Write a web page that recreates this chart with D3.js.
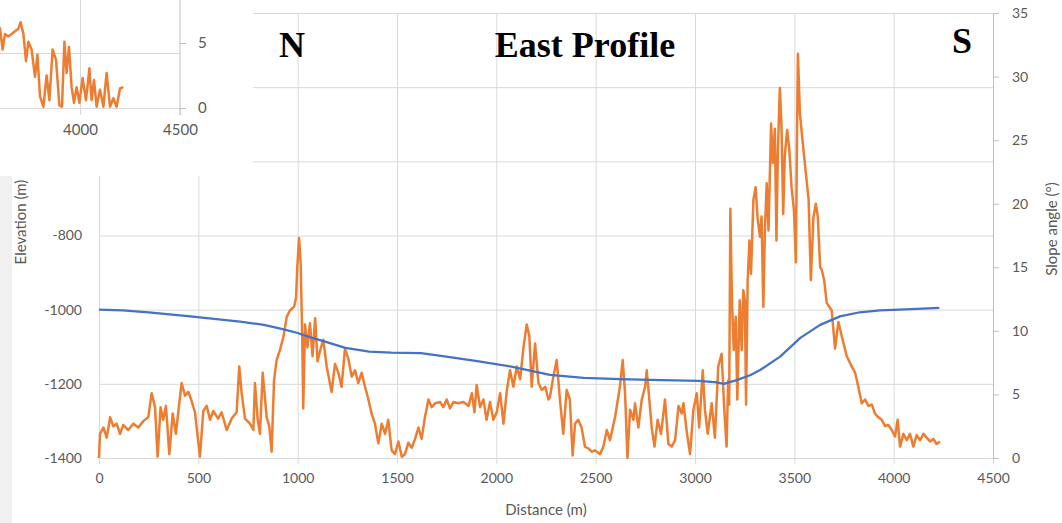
<!DOCTYPE html>
<html>
<head>
<meta charset="utf-8">
<script src="https://cdn.jsdelivr.net/npm/d3@7"></script>
<style>
  html, body { margin: 0; padding: 0; background: #ffffff; }
  svg { display: block; }
  .tick-label { font-family: Lato, "Open Sans", sans-serif; fill: #595959; }
</style>
</head>
<body>
<svg id="chart" width="1062" height="523"></svg>
<script>
// ---- data ----
const distanceTicks = [0, 500, 1000, 1500, 2000, 2500, 3000, 3500, 4000, 4500];
const elevationTicks = [-1400, -1200, -1000, -800, -600, -400, -200];
const slopeTicks = [0, 5, 10, 15, 20, 25, 30, 35];

// elevation along the east profile: [distance m, elevation m]
const elevationProfile = [
  [0,-1000],[120,-1002],[250,-1007],[460,-1018],[710,-1032],[830,-1041],[930,-1053],
  [1000,-1063],[1060,-1074],[1130,-1085],[1240,-1103],[1360,-1113],[1470,-1116],
  [1620,-1117],[1740,-1126],[1920,-1140],[2070,-1153],[2270,-1176],[2440,-1184],
  [2620,-1187],[2775,-1189],[3020,-1192],[3110,-1196],[3145,-1200],[3210,-1190],
  [3280,-1176],[3330,-1162],[3430,-1126],[3530,-1076],[3630,-1041],[3730,-1018],
  [3830,-1007],[3930,-1002],[4030,-1000],[4230,-995]
];

// slope angle along the east profile: [distance m, slope deg]
const slopeProfile = [
  [0,0],[5,1.9],[22,2.4],[39,1.6],[56,3.2],[72,2.5],[89,2.7],[106,1.9],[122,2.6],
  [147,2.2],[173,2.7],[198,2.4],[223,2.9],[248,3.2],[265,5.1],[282,4.0],[295,0.1],
  [310,4.0],[323,3.0],[337,4.1],[354,0.3],[371,3.5],[387,1.9],[399,3.6],[416,5.9],
  [433,4.9],[450,5.2],[466,4.5],[483,3.6],[508,0.1],[525,3.7],[542,4.1],[559,3.0],
  [575,3.7],[600,3.1],[617,3.6],[643,2.2],[668,3.1],[693,3.6],[706,7.2],[718,5.1],
  [735,3.1],[760,2.7],[777,2.2],[785,5.9],[799,3.0],[810,1.9],[824,6.7],[844,3.2],
  [857,2.5],[869,0.5],[881,6.1],[894,7.7],[911,8.5],[928,9.5],[945,11.1],[961,11.6],
  [982,11.9],[992,12.6],[998,15.0],[1007,17.3],[1015,15.3],[1023,9.5],[1028,3.9],
  [1037,10.5],[1049,8.7],[1062,10.6],[1075,8.0],[1088,11.0],[1100,7.6],[1112,8.4],
  [1129,9.3],[1146,7.2],[1171,5.2],[1188,7.4],[1205,6.7],[1221,5.6],[1238,8.6],
  [1255,7.8],[1272,6.4],[1289,6.9],[1305,5.9],[1322,6.7],[1339,5.6],[1356,4.6],
  [1372,3.5],[1389,2.7],[1406,1.15],[1423,2.7],[1440,1.9],[1456,3.0],[1473,0.6],
  [1490,0.3],[1507,1.3],[1524,0.1],[1540,0.3],[1557,1.2],[1574,0.8],[1591,1.5],
  [1608,2.4],[1624,1.5],[1641,3.25],[1658,4.6],[1675,4.0],[1692,4.3],[1717,4.4],
  [1733,4.0],[1750,4.6],[1767,3.9],[1784,4.4],[1809,4.3],[1834,4.4],[1860,4.1],
  [1877,5.1],[1890,3.6],[1901,5.75],[1918,4.0],[1935,4.6],[1951,3.0],[1968,4.4],
  [1985,3.0],[2002,3.6],[2019,5.1],[2036,2.7],[2053,5.35],[2069,6.9],[2086,5.6],
  [2103,7.2],[2120,6.2],[2137,8.75],[2153,10.5],[2166,9.6],[2178,5.6],[2195,9.0],
  [2212,5.9],[2229,5.35],[2246,5.6],[2262,4.6],[2270,4.8],[2287,6.4],[2304,7.7],
  [2320,4.6],[2337,1.9],[2354,5.35],[2370,4.6],[2384,0.2],[2396,2.7],[2412,3.0],
  [2429,2.4],[2446,0.9],[2463,0.75],[2480,0.5],[2497,0.6],[2522,0.3],[2539,0.9],
  [2556,2.2],[2572,1.4],[2598,3.25],[2622,5.6],[2636,7.7],[2648,5.1],[2660,0.0],
  [2673,3.8],[2690,3.0],[2698,4.3],[2715,2.4],[2732,4.6],[2749,5.6],[2757,6.9],
  [2770,4.6],[2782,2.4],[2796,0.9],[2812,3.0],[2829,1.9],[2849,4.6],[2866,1.1],
  [2883,0.9],[2900,1.4],[2917,4.1],[2933,3.5],[2942,4.3],[2959,2.0],[2975,0.3],
  [2992,3.8],[3009,5.1],[3021,2.4],[3039,6.9],[3050,3.8],[3064,1.9],[3084,4.3],
  [3100,1.6],[3117,7.2],[3134,8.2],[3147,3.9],[3159,0.9],[3167,6.1],[3172,4.2],
  [3178,19.6],[3186,12.4],[3195,8.5],[3205,11.1],[3213,4.6],[3225,12.4],[3235,8.5],
  [3243,13.2],[3251,12.4],[3257,4.2],[3265,13.9],[3274,17.1],[3282,14.5],[3294,20.3],
  [3305,21.3],[3315,18.9],[3327,17.4],[3335,19.0],[3344,11.9],[3352,18.0],[3361,21.6],
  [3370,17.9],[3383,26.3],[3392,23.2],[3402,25.9],[3410,17.1],[3417,24.0],[3427,29.1],
  [3435,26.3],[3444,19.2],[3452,23.8],[3464,25.8],[3475,24.2],[3486,21.3],[3498,19.5],
  [3508,15.4],[3513,24.8],[3518,31.8],[3528,27.1],[3541,25.0],[3558,22.4],[3572,20.3],
  [3583,14.0],[3596,18.9],[3608,20.0],[3618,19.0],[3630,15.0],[3638,14.8],[3650,14.0],
  [3663,12.2],[3688,11.6],[3705,8.6],[3722,10.7],[3740,9.5],[3764,8.0],[3789,7.2],
  [3806,6.7],[3822,5.6],[3839,4.3],[3856,4.6],[3873,4.1],[3890,4.2],[3906,3.5],
  [3923,3.2],[3940,3.0],[3957,2.5],[3973,2.6],[3990,2.2],[4007,1.7],[4020,3.0],
  [4032,0.9],[4049,1.9],[4066,1.4],[4082,1.9],[4099,0.9],[4116,1.8],[4133,1.4],
  [4150,1.9],[4166,1.6],[4183,1.3],[4200,1.5],[4216,1.1],[4233,1.3]
];

// neighbouring panel (tail of the slope profile): [distance m, slope deg]
const insetDistanceTicks = [4000, 4500];
const insetSlopeTicks = [0, 5];
const insetElevationTicks = [-1400, -1200];
const insetSlopeProfile = [
  [3590,6.4],[3600,6.1],[3613,4.5],[3625,5.7],[3642,5.5],[3658,5.7],[3675,5.9],
  [3692,6.1],[3703,6.6],[3717,5.7],[3730,3.6],[3742,5.1],[3758,4.5],[3775,2.4],
  [3787,4.1],[3800,0.9],[3817,0.1],[3833,2.5],[3847,0.6],[3863,4.5],[3880,3.7],
  [3897,0.2],[3910,0.1],[3922,5.1],[3933,2.7],[3945,4.7],[3958,1.6],[3970,0.4],
  [3983,1.6],[3997,0.4],[4013,2.3],[4030,0.6],[4047,3.05],[4058,0.6],[4070,2.15],
  [4083,0.1],[4100,1.4],[4117,0.1],[4133,2.7],[4150,0.1],[4167,0.75],[4183,0.1],
  [4200,1.5],[4217,1.6]
];

// ---- layout ----
const svg = d3.select("#chart");
const plot = { left: 99, right: 993, top: 13, bottom: 458 };

const x = d3.scaleLinear().domain([0, 4500]).range([plot.left, plot.right]);
const yElev = d3.scaleLinear().domain([-1400, -200]).range([plot.bottom, plot.top]);
const ySlope = d3.scaleLinear().domain([0, 35]).range([plot.bottom, plot.top]);

const plain = d => String(d);   // "-1000", "4500": no separators, hyphen minus
const gridColor = "#d9d9d9";
const orange = "#ed7d31";
const blue = "#4472c4";

// ---- main chart ----
const main = svg.append("g");

// horizontal gridlines follow the elevation axis
main.append("g")
  .attr("transform", `translate(${plot.left},0)`)
  .call(d3.axisLeft(yElev).tickValues(elevationTicks).tickSize(-(plot.right - plot.left)).tickFormat(""))
  .call(g => g.select(".domain").remove())
  .call(g => g.selectAll("line").attr("stroke", gridColor).attr("stroke-width", 1));

// vertical gridlines at each distance tick
main.append("g")
  .attr("transform", `translate(0,${plot.top})`)
  .call(d3.axisTop(x).tickValues(distanceTicks).tickSize(-(plot.bottom - plot.top)).tickFormat(""))
  .call(g => g.select(".domain").remove())
  .call(g => g.selectAll("line").attr("stroke", gridColor).attr("stroke-width", 1));

// x axis: short ticks and labels
main.append("g")
  .attr("transform", `translate(0,${plot.bottom})`)
  .call(d3.axisBottom(x).tickValues(distanceTicks).tickFormat(plain).tickSize(6).tickPadding(9))
  .call(g => g.select(".domain").attr("stroke", gridColor))
  .call(g => g.selectAll("line").attr("stroke", gridColor))
  .call(g => g.selectAll("text").attr("class", "tick-label").attr("font-size", 14));

// left axis labels (elevation)
main.append("g")
  .attr("transform", `translate(${plot.left},0)`)
  .call(d3.axisLeft(yElev).tickValues(elevationTicks).tickFormat(plain).tickSize(0).tickPadding(17))
  .call(g => g.select(".domain").remove())
  .call(g => g.selectAll("text").attr("class", "tick-label").attr("font-size", 14));

// right axis (slope)
main.append("g")
  .attr("transform", `translate(${plot.right},0)`)
  .call(d3.axisRight(ySlope).tickValues(slopeTicks).tickFormat(plain).tickSize(6).tickPadding(13))
  .call(g => g.select(".domain").attr("stroke", "#bfbfbf"))
  .call(g => g.selectAll("line").attr("stroke", "#bfbfbf"))
  .call(g => g.selectAll("text").attr("class", "tick-label").attr("font-size", 14));

// series
const elevLine = d3.line().x(d => x(d[0])).y(d => yElev(d[1]));
const slopeLine = d3.line().x(d => x(d[0])).y(d => ySlope(d[1]));

main.append("path")
  .datum(slopeProfile)
  .attr("d", slopeLine)
  .attr("fill", "none")
  .attr("stroke", orange)
  .attr("stroke-width", 2.5)
  .attr("stroke-linejoin", "round");

main.append("path")
  .datum(elevationProfile)
  .attr("d", elevLine)
  .attr("fill", "none")
  .attr("stroke", blue)
  .attr("stroke-width", 2.25)
  .attr("stroke-linejoin", "round");

// axis titles
main.append("text")
  .attr("class", "tick-label")
  .attr("font-size", 15)
  .attr("text-anchor", "middle")
  .attr("x", 546).attr("y", 515)
  .text("Distance (m)");

main.append("text")
  .attr("class", "tick-label")
  .attr("font-size", 15)
  .attr("text-anchor", "middle")
  .attr("transform", "translate(26,222) rotate(-90)")
  .text("Elevation (m)");

main.append("text")
  .attr("class", "tick-label")
  .attr("font-size", 15)
  .attr("text-anchor", "middle")
  .attr("transform", "translate(1057,229) rotate(-90)")
  .text("Slope angle (°)");

// ---- neighbouring panel in the upper-left corner ----
const panel = { width: 253, height: 176 };
svg.append("rect")
  .attr("x", 0).attr("y", 0)
  .attr("width", panel.width).attr("height", panel.height)
  .attr("fill", "#ffffff");

svg.append("rect")
  .attr("x", 0).attr("y", panel.height)
  .attr("width", 12).attr("height", 523 - panel.height)
  .attr("fill", "#f0f0f0");

const inset = svg.append("g");
const xIn = d3.scaleLinear().domain([4000, 4500]).range([80, 180]);
const yIn = d3.scaleLinear().domain([0, 5]).range([108, 43]);
const yInElev = d3.scaleLinear().domain([-1400, -1200]).range([108, 53]);

inset.append("clipPath").attr("id", "inset-clip")
  .append("rect").attr("x", 0).attr("y", 0).attr("width", 180).attr("height", 120);

inset.append("g")
  .attr("transform", "translate(180,0)")
  .call(d3.axisLeft(yInElev).tickValues(insetElevationTicks).tickSize(180).tickFormat(""))
  .call(g => g.select(".domain").remove())
  .call(g => g.selectAll("line").attr("stroke", gridColor));

inset.append("g")
  .attr("transform", "translate(0,108)")
  .call(d3.axisBottom(xIn).tickValues(insetDistanceTicks).tickFormat(plain).tickSize(7).tickPadding(9))
  .call(g => g.select(".domain").remove())
  .call(g => g.selectAll("line").attr("stroke", gridColor))
  .call(g => g.selectAll("text").attr("class", "tick-label").attr("font-size", 15));

inset.append("g")
  .attr("transform", "translate(0,0)")
  .call(d3.axisTop(xIn).tickValues([4000]).tickSize(-108).tickFormat(""))
  .call(g => g.select(".domain").remove())
  .call(g => g.selectAll("line").attr("stroke", gridColor));

inset.append("g")
  .attr("transform", "translate(180,0)")
  .call(d3.axisRight(yIn).tickValues(insetSlopeTicks).tickFormat(plain).tickSize(6).tickPadding(12))
  .call(g => g.select(".domain").remove())
  .call(g => g.selectAll("line").attr("stroke", "#bfbfbf"))
  .call(g => g.selectAll("text").attr("class", "tick-label").attr("font-size", 15));

inset.append("line")
  .attr("x1", 180).attr("x2", 180).attr("y1", 0).attr("y2", 115)
  .attr("stroke", "#bfbfbf");

inset.append("path")
  .datum(insetSlopeProfile)
  .attr("clip-path", "url(#inset-clip)")
  .attr("d", d3.line().x(d => xIn(d[0])).y(d => yIn(d[1])))
  .attr("fill", "none")
  .attr("stroke", orange)
  .attr("stroke-width", 2.5)
  .attr("stroke-linejoin", "round");

// ---- title and compass labels ----
const titleFont = "'Liberation Serif', 'Times New Roman', serif";
svg.append("text")
  .attr("x", 585).attr("y", 57)
  .attr("text-anchor", "middle")
  .attr("font-family", titleFont).attr("font-weight", "bold").attr("font-size", 36)
  .attr("fill", "#000")
  .text("East Profile");
svg.append("text")
  .attr("x", 292).attr("y", 57)
  .attr("text-anchor", "middle")
  .attr("font-family", titleFont).attr("font-weight", "bold").attr("font-size", 36)
  .attr("fill", "#000")
  .text("N");
svg.append("text")
  .attr("x", 962).attr("y", 53)
  .attr("text-anchor", "middle")
  .attr("font-family", titleFont).attr("font-weight", "bold").attr("font-size", 36)
  .attr("fill", "#000")
  .text("S");
</script>
</body>
</html>
